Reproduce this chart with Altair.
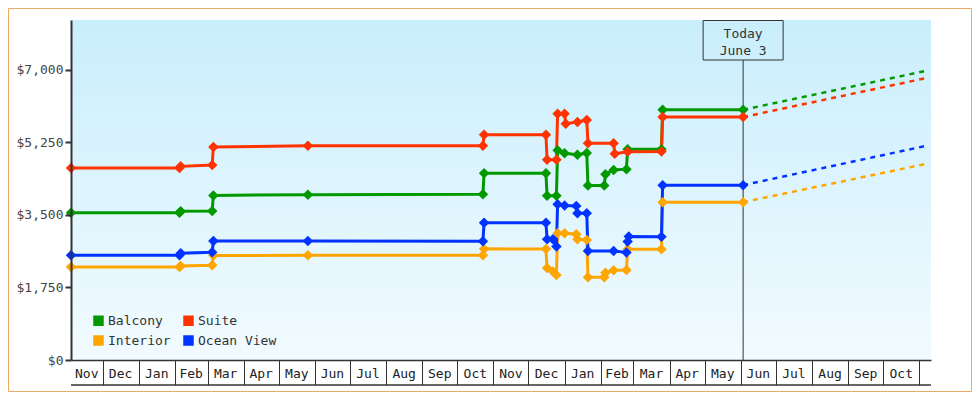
import altair as alt
import pandas as pd
from datetime import datetime

FONT = "DejaVu Sans Mono"

# legend is laid out column by column: (Balcony, Interior) then (Suite, Ocean View)
series_names = ["Balcony", "Interior", "Suite", "Ocean View"]
series_colors = ["#009900", "#ffa500", "#ff3300", "#0033ff"]

balcony_dates = ["2017-11-04", "2018-02-05", "2018-02-06", "2018-03-05", "2018-03-06", "2018-05-26",
                 "2018-10-23", "2018-10-24", "2018-12-16", "2018-12-17", "2018-12-25", "2018-12-26",
                 "2019-01-01", "2019-01-12", "2019-01-20", "2019-01-21", "2019-02-04", "2019-02-05",
                 "2019-02-12", "2019-02-23", "2019-02-24", "2019-03-25", "2019-03-26", "2019-06-03"]
balcony_prices = [3550, 3550, 3590, 3595, 3970, 3985, 4000, 4505, 4505, 3960, 3960, 5060,
                  4985, 4950, 4990, 4207, 4207, 4480, 4585, 4603, 5080, 5080, 6035, 6035]

suite_dates = ["2017-11-04", "2018-02-05", "2018-02-06", "2018-03-05", "2018-03-06", "2018-05-26",
               "2018-10-23", "2018-10-24", "2018-12-16", "2018-12-17", "2018-12-25", "2018-12-26",
               "2019-01-01", "2019-01-02", "2019-01-12", "2019-01-20", "2019-01-21", "2019-02-12",
               "2019-02-13", "2019-02-24", "2019-03-25", "2019-03-26", "2019-06-03"]
suite_prices = [4630, 4630, 4670, 4700, 5135, 5170, 5170, 5430, 5430, 4830, 4830, 5940,
                5940, 5700, 5740, 5790, 5230, 5230, 4975, 5025, 5030, 5860, 5860]

interior_dates = ["2017-11-04", "2018-02-05", "2018-02-06", "2018-03-05", "2018-03-06", "2018-05-26",
                  "2018-10-23", "2018-10-24", "2018-12-16", "2018-12-17", "2018-12-22", "2018-12-25",
                  "2018-12-26", "2019-01-01", "2019-01-11", "2019-01-12", "2019-01-20", "2019-01-21",
                  "2019-02-04", "2019-02-05", "2019-02-12", "2019-02-23", "2019-02-24", "2019-03-25",
                  "2019-03-26", "2019-06-03"]
interior_prices = [2245, 2245, 2270, 2285, 2520, 2527, 2527, 2680, 2675, 2220, 2135, 2050,
                   3058, 3058, 3035, 2913, 2897, 1996, 1996, 2107, 2165, 2172, 2672, 2672,
                   3807, 3807]

ocean_dates = ["2017-11-04", "2018-02-05", "2018-02-06", "2018-03-05", "2018-03-06", "2018-05-26",
               "2018-10-23", "2018-10-24", "2018-12-16", "2018-12-17", "2018-12-22", "2018-12-25",
               "2018-12-26", "2019-01-01", "2019-01-11", "2019-01-12", "2019-01-20", "2019-01-21",
               "2019-02-12", "2019-02-23", "2019-02-24", "2019-02-25", "2019-03-25", "2019-03-26",
               "2019-06-03"]
ocean_prices = [2527, 2527, 2575, 2600, 2872, 2872, 2865, 3310, 3310, 2913, 2913, 2735,
                3758, 3729, 3717, 3541, 3541, 2631, 2631, 2595, 2855, 2976, 2970, 4217,
                4217]

projection_end_date = "2019-11-07"
projection_end_prices = [6976, 4731, 6800, 5166]   # aligned with series_names

today_date = "2019-06-03"
today_lines = ["Today", "June 3"]

x_start = "2017-11-04"
x_end = "2019-11-11"
month_labels = ["Nov", "Dec", "Jan", "Feb", "Mar", "Apr", "May", "Jun", "Jul", "Aug", "Sep", "Oct",
                "Nov", "Dec", "Jan", "Feb", "Mar", "Apr", "May", "Jun", "Jul", "Aug", "Sep", "Oct"]
y_ticks = [0, 1750, 3500, 5250, 7000]
y_max = 8200

W, H = 860, 340


def iso(d):
    return d + "T00:00:00"


def parse(d):
    return datetime.strptime(d, "%Y-%m-%d")


def dt(d):
    p = parse(d)
    return alt.DateTime(year=p.year, month=p.month, date=p.day)


series_data = {
    "Balcony": (balcony_dates, balcony_prices),
    "Interior": (interior_dates, interior_prices),
    "Suite": (suite_dates, suite_prices),
    "Ocean View": (ocean_dates, ocean_prices),
}
rows = []
for name, (ds, ps) in series_data.items():
    for d, p in zip(ds, ps):
        rows.append({"series": name, "date": iso(d), "price": p})
hist = pd.DataFrame(rows)

prow = []
for name, end in zip(series_names, projection_end_prices):
    ds, ps = series_data[name]
    prow.append({"series": name, "date": iso(ds[-1]), "price": ps[-1]})
    prow.append({"series": name, "date": iso(projection_end_date), "price": end})
proj = pd.DataFrame(prow)

month_starts = []
y, m = 2017, 11
for _ in range(25):
    month_starts.append(f"{y:04d}-{m:02d}-01")
    m += 1
    if m > 12:
        m = 1
        y += 1
lab_rows = []
xs, xe = parse(x_start), parse(x_end)
for i, lab in enumerate(month_labels):
    s = max(parse(month_starts[i]), xs)
    e = min(parse(month_starts[i + 1]), xe)
    mid = s + (e - s) / 2
    lab_rows.append({"date": mid.strftime("%Y-%m-%dT%H:%M:%S"), "label": lab})
labels_df = pd.DataFrame(lab_rows)

x_scale = alt.Scale(domain=[dt(x_start), dt(x_end)], nice=False)
y_scale = alt.Scale(domain=[0, y_max], nice=False, zero=True)
c_scale = alt.Scale(domain=series_names, range=series_colors)

x_axis = alt.Axis(values=[dt(d) for d in month_starts[1:]], labels=False, tickSize=25,
                  tickColor="#333", tickWidth=1, domainColor="#333", domainWidth=1.5,
                  grid=False, title=None, zindex=1)
y_axis = alt.Axis(values=y_ticks, format="$,.0f", grid=False, domainColor="#333", domainWidth=2,
                  tickColor="#333", tickWidth=2, tickSize=6, labelFont=FONT, labelFontSize=13,
                  labelColor="#444", labelPadding=2, title=None, zindex=1)
legend = alt.Legend(
    orient="none", legendX=21, legendY=294, columns=2, symbolType="square", symbolSize=110,
    symbolStrokeWidth=0, title=None, labelFont=FONT, labelFontSize=13, labelColor="#333",
    rowPadding=6, columnPadding=11, labelOffset=3, symbolOpacity=1, zindex=1)

X = alt.X("date:T", scale=x_scale, axis=x_axis)
Y = alt.Y("price:Q", scale=y_scale, axis=y_axis)
C = alt.Color("series:N", scale=c_scale, legend=legend)

one = pd.DataFrame({"k": [0]})
today_df = pd.DataFrame({"date": [iso(today_date)]})

gradient = alt.LinearGradient(
    gradient="linear",
    stops=[alt.GradientStop(color="#c9eefc", offset=0), alt.GradientStop(color="#f2fbff", offset=1)],
    x1=0, x2=0, y1=0, y2=1,
)

bg = alt.Chart(one).mark_rect(fill=gradient).encode(
    x=alt.value(0), x2=alt.value(W), y=alt.value(0), y2=alt.value(H))

border = alt.Chart(one).mark_rect(fill="transparent", stroke="#e9aa62", strokeWidth=1).encode(
    x=alt.value(-62.5), x2=alt.value(W + 40.5), y=alt.value(-11.5), y2=alt.value(H + 31.5))

legend_layer = alt.Chart(hist).mark_point(shape="square", filled=True, opacity=1).encode(
    x=X, y=Y, color=C).transform_filter("false")

today_box = alt.Chart(today_df).mark_rect(
    xOffset=-40, x2Offset=40, fill="transparent", stroke="#333", strokeWidth=1
).encode(x=X, x2="date:T", y=alt.value(0.5), y2=alt.value(40))

today_rule = alt.Chart(today_df).mark_rule(color="#333", strokeWidth=1).encode(
    x=X, y=alt.value(40), y2=alt.value(H))

today_t1 = alt.Chart(today_df).mark_text(
    text=today_lines[0], font=FONT, fontSize=13, color="#333", baseline="alphabetic", align="center"
).encode(x=X, y=alt.value(17.5))
today_t2 = alt.Chart(today_df).mark_text(
    text=today_lines[1], font=FONT, fontSize=13, color="#333", baseline="alphabetic", align="center"
).encode(x=X, y=alt.value(35))

lines = alt.Chart(hist).mark_line(
    strokeWidth=3, point=alt.OverlayMarkDef(shape="diamond", size=110, filled=True, opacity=1)
).encode(x=X, y=Y, color=C)

projection = alt.Chart(proj).mark_line(strokeWidth=2.5, strokeDash=[5, 5]).encode(
    x=X, y=Y, color=C)

month_text = alt.Chart(labels_df).mark_text(
    font=FONT, fontSize=13, color="#222", baseline="alphabetic", align="center"
).encode(x=X, y=alt.value(357.5), text="label:N")

bottom_rule = alt.Chart(one).mark_rule(color="#333", strokeWidth=1.5).encode(
    x=alt.value(0), x2=alt.value(W), y=alt.value(365))

chart = alt.layer(
    bg, border, legend_layer, today_box, today_rule, today_t1, today_t2, projection, lines,
    month_text, bottom_rule
).properties(
    width=W, height=H,
    padding={"left": 63, "top": 12, "right": 41, "bottom": 32},
    autosize=alt.AutoSizeParams(type="none"),
    background="white",
).configure_view(stroke=None)

chart.save("out.html", embed_options={"renderer": "svg", "actions": False})
